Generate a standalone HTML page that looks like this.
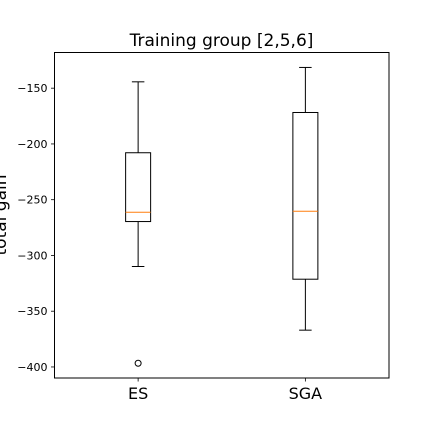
<!DOCTYPE html>
<html><head><meta charset="utf-8"><style>
body{margin:0;background:#fff;}
svg{display:block;font-family:"DejaVu Sans","Liberation Sans",sans-serif;}
</style></head><body>
<svg id="chart" width="432" height="432">
<rect width="432" height="432" fill="#fff"/>
<text x="221.5" y="46" text-anchor="middle" font-size="17">Training group [2,5,6]</text>
<text transform="translate(6,215) rotate(-90)" text-anchor="middle" font-size="17">total gain</text>
<g id="marks"></g>
<rect x="54.5" y="52.5" width="334.5" height="325.5" fill="none" stroke="#000" stroke-width="1"/>
</svg>
<script>
const categories = ["ES", "SGA"];
const whiskerHigh = [-144.3, -131.4];
const q3 = [-207.9, -171.8];
const medians = [-261.3, -260.4];
const q1 = [-269.6, -321.3];
const whiskerLow = [-309.9, -367];
const outliers = [[-396.7], []];
const yTicks = [-150, -200, -250, -300, -350, -400];

const L=54.5,R=389,T=52.5,B=378;
const yMin=-409.9,yMax=-118;
function y(v){return B-(v-yMin)/(yMax-yMin)*(B-T);}
function x(i){return L+(i+1-0.5)/2*(R-L);}
const ns="http://www.w3.org/2000/svg";
const g=document.getElementById('marks');
function mk(tag,attrs,parent){const e=document.createElementNS(ns,tag);for(const k in attrs)e.setAttribute(k,attrs[k]);(parent||g).appendChild(e);return e;}
const bw=12.5, cw=bw/2;
yTicks.forEach(t=>{
  const yy=y(t);
  const tk=mk('line',{x1:L-3.5,x2:L,y1:yy,y2:yy,stroke:'#000','stroke-width':0.8});
  
  
  const lb=mk('text',{x:L-7,y:yy+4,'text-anchor':'end','font-size':'11'});
  lb.textContent='\u2212'+Math.abs(t);
  
  
});
categories.forEach((c,i)=>{
  const cx=x(i);
  const tk=mk('line',{x1:cx,x2:cx,y1:B,y2:B+3.5,stroke:'#000','stroke-width':0.8});
  
  
  const lb=mk('text',{x:cx,y:B+21,'text-anchor':'middle','font-size':'16'});
  lb.textContent=c;
  
  
  const grp=mk('g',{});
  
  
  const s={stroke:'#000','stroke-width':1,fill:'none'};
  mk('line',Object.assign({x1:cx,x2:cx,y1:y(whiskerHigh[i]),y2:y(q3[i])},s),grp);
  mk('line',Object.assign({x1:cx,x2:cx,y1:y(q1[i]),y2:y(whiskerLow[i])},s),grp);
  mk('line',Object.assign({x1:cx-cw,x2:cx+cw,y1:y(whiskerHigh[i]),y2:y(whiskerHigh[i])},s),grp);
  mk('line',Object.assign({x1:cx-cw,x2:cx+cw,y1:y(whiskerLow[i]),y2:y(whiskerLow[i])},s),grp);
  mk('rect',Object.assign({x:cx-bw,y:y(q3[i]),width:2*bw,height:y(q1[i])-y(q3[i])},s),grp);
  mk('line',{x1:cx-bw,x2:cx+bw,y1:y(medians[i]),y2:y(medians[i]),stroke:'#ff7f0e','stroke-width':1},grp);
  outliers[i].forEach(o=>{
    const p=mk('circle',{cx:cx,cy:y(o),r:3,fill:'none',stroke:'#000','stroke-width':1},grp);
    
    
  });
});
</script>
</body></html>
